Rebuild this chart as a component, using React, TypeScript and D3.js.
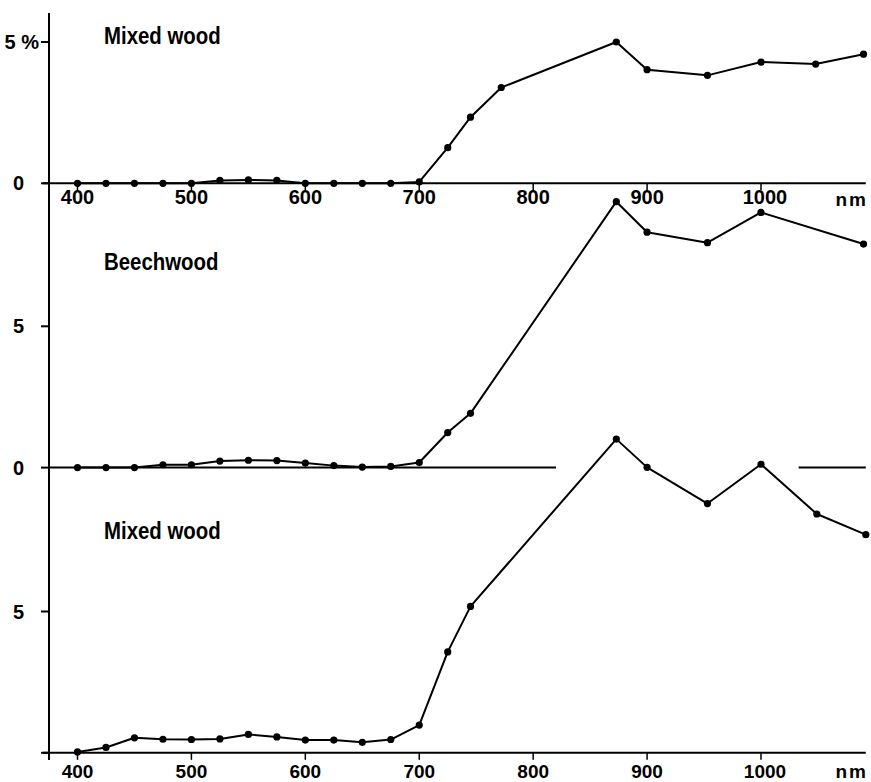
import React from 'react';
import * as d3 from 'd3';

// wavelengths (nm) and reflectance (%)
const wlTop = [400, 425, 450, 475, 500, 525, 550, 575, 600, 625, 650, 675, 700, 725, 745, 772, 873, 900, 953, 1000, 1048, 1090];
const mixedTop = [0, 0, 0, 0, 0, 0.1, 0.12, 0.1, 0, 0, 0, 0, 0.05, 1.26, 2.34, 3.39, 5.0, 4.02, 3.82, 4.29, 4.22, 4.57];

const wlBeech = [400, 425, 450, 475, 500, 525, 550, 575, 600, 625, 650, 675, 700, 725, 745, 873, 900, 953, 1000, 1090];
const beech = [0, 0, 0, 0.1, 0.1, 0.23, 0.26, 0.25, 0.16, 0.07, 0.02, 0.04, 0.18, 1.24, 1.92, 9.41, 8.33, 7.96, 9.03, 7.91];

const wlBottom = [400, 425, 450, 475, 500, 525, 550, 575, 600, 625, 650, 675, 700, 725, 745, 873, 900, 953, 1000, 1049, 1092];
const mixedBottom = [0.03, 0.19, 0.53, 0.48, 0.47, 0.49, 0.65, 0.56, 0.45, 0.45, 0.37, 0.47, 0.98, 3.57, 5.18, 11.1, 10.1, 8.82, 10.21, 8.45, 7.72];

const xTicks = [400, 500, 600, 700, 800, 900, 1000];
const yTicks = [0, 5];
const panelNames = ['Mixed wood', 'Beechwood', 'Mixed wood'];
const yTickLabels = [['0', '5 %'], ['0', '5'], ['', '5']];

const W = 871, H = 782;
const FONT = "'Liberation Sans', Arial, sans-serif";

export default function App() {
  const x = d3.scaleLinear().domain([400, 1000]).range([77.5, 761]);
  const axisX = 49;

  const panels = [
    { wl: wlTop, v: mixedTop, zero: 183.3, nameY: 43.5 },
    { wl: wlBeech, v: beech, zero: 467.6, nameY: 270 },
    { wl: wlBottom, v: mixedBottom, zero: 752.8, nameY: 538.5 },
  ].map((p, i) => ({
    ...p,
    name: panelNames[i],
    tickLabels: yTickLabels[i],
    y: d3.scaleLinear().domain([0, 5]).range([p.zero, p.zero - 141.3]),
  }));

  const line = d3.line<[number, number]>();

  return (
    <div style={{ position: 'absolute', left: 0, top: 0 }}>
      <svg width={W} height={H} style={{ display: 'block', background: '#fff' }}>
        {/* shared y axis */}
        <line x1={axisX} x2={axisX} y1={13} y2={760} stroke="#000" strokeWidth={2} />

        {panels.map((p, i) => {
          const pts: [number, number][] = p.wl.map((w, j) => [x(w), p.y(p.v[j])]);
          return (
            <g key={i}>
              {/* y ticks */}
              {yTicks.map((t, k) => (
                <g key={t}>
                  <line x1={axisX - 8} x2={axisX} y1={p.y(t)} y2={p.y(t)} stroke="#000" strokeWidth={2} />
                  {p.tickLabels[k] && (
                    <text
                      x={p.tickLabels[k].length > 1 ? 39 : 24}
                      y={p.y(t) + 7}
                      textAnchor="end"
                      fontFamily={FONT}
                      fontWeight="bold"
                      fontSize={20}
                    >
                      {p.tickLabels[k]}
                    </text>
                  )}
                </g>
              ))}

              {/* zero / x axis line */}
              {i === 1 ? (
                <>
                  <line x1={axisX} x2={x(820)} y1={p.y(0)} y2={p.y(0)} stroke="#000" strokeWidth={2} />
                  <line x1={x(1033)} x2={x(1092)} y1={p.y(0)} y2={p.y(0)} stroke="#000" strokeWidth={2} />
                </>
              ) : (
                <line x1={axisX - 6} x2={x(1092)} y1={p.y(0)} y2={p.y(0)} stroke="#000" strokeWidth={2} />
              )}

              {/* x ticks + labels on top and bottom panels */}
              {i !== 1 && xTicks.map(t => (
                <g key={t}>
                  <line x1={x(t)} x2={x(t)} y1={p.y(0)} y2={p.y(0) + 7} stroke="#000" strokeWidth={1.5} />
                  <text
                    x={x(t) + (t === 1000 ? 4 : 0)}
                    y={p.y(0) + (i === 0 ? 21 : 25)}
                    textAnchor="middle"
                    fontFamily={FONT}
                    fontWeight="bold"
                    fontSize={i === 0 ? 20 : 19}
                  >
                    {t}
                  </text>
                </g>
              ))}
              {i !== 1 && (
                <text
                  x={868}
                  y={p.y(0) + (i === 0 ? 23 : 25)}
                  textAnchor="end"
                  fontFamily={FONT}
                  fontWeight="bold"
                  fontSize={19}
                  letterSpacing={2}
                >
                  nm
                </text>
              )}

              {/* series */}
              <path d={line(pts) ?? ''} fill="none" stroke="#000" strokeWidth={2} strokeLinejoin="round" />
              {pts.map((d, j) => (
                <circle key={j} cx={d[0]} cy={d[1]} r={3.6} fill="#000" />
              ))}

              {/* panel name, condensed */}
              <text
                transform={`translate(104,${p.nameY}) scale(0.85,1)`}
                fontFamily={FONT}
                fontWeight="bold"
                fontSize={24}
              >
                {p.name}
              </text>
            </g>
          );
        })}
      </svg>
    </div>
  );
}
